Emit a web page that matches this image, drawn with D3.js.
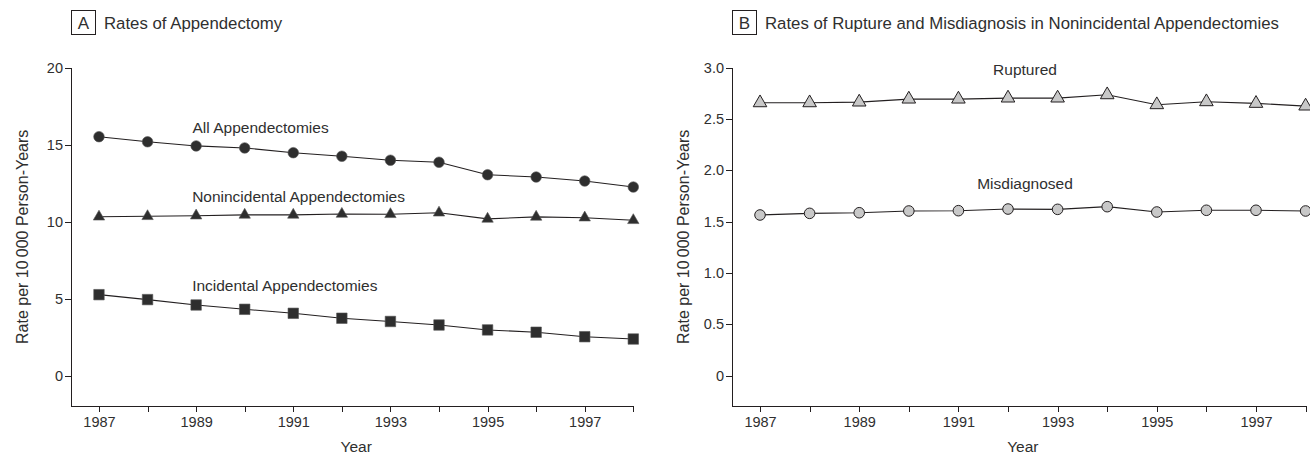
<!DOCTYPE html>
<html>
<head>
<meta charset="utf-8">
<script src="https://cdn.jsdelivr.net/npm/d3@7"></script>
<style>
  html, body { margin: 0; padding: 0; background: #fff; }
  svg { display: block; }
  text { font-family: "Liberation Sans", Arial, Helvetica, sans-serif; fill: #2f2f2f; }
  .axis path, .axis line { stroke: #231f20; stroke-width: 1.1; shape-rendering: crispEdges; }
  .axis text { font-size: 14.5px; fill: #2f2f2f; }
</style>
</head>
<body>
<svg id="chart" width="1310" height="455"></svg>
<script>
// ---- data ----
const years = [1987, 1988, 1989, 1990, 1991, 1992, 1993, 1994, 1995, 1996, 1997, 1998];
const allAppendectomies = [15.52, 15.19, 14.92, 14.79, 14.48, 14.25, 13.99, 13.86, 13.05, 12.90, 12.64, 12.25];
const nonincidentalAppendectomies = [10.32, 10.35, 10.39, 10.44, 10.44, 10.50, 10.48, 10.58, 10.18, 10.31, 10.26, 10.09];
const incidentalAppendectomies = [5.26, 4.94, 4.59, 4.31, 4.05, 3.73, 3.52, 3.29, 2.97, 2.82, 2.53, 2.38];
const ruptured = [2.658, 2.658, 2.665, 2.694, 2.694, 2.704, 2.704, 2.736, 2.639, 2.668, 2.652, 2.626];
const misdiagnosed = [1.565, 1.581, 1.587, 1.604, 1.607, 1.623, 1.620, 1.646, 1.594, 1.611, 1.611, 1.604];
const xTickYears = years;
const xTickLabels = ["1987", "", "1989", "", "1991", "", "1993", "", "1995", "", "1997", ""];
const yTicksA = [0, 5, 10, 15, 20];
const yTickLabelsA = ["0", "5", "10", "15", "20"];
const yTicksB = [0, 0.5, 1.0, 1.5, 2.0, 2.5, 3.0];
const yTickLabelsB = ["0", "0.5", "1.0", "1.5", "2.0", "2.5", "3.0"];
const titleA = "Rates of Appendectomy";
const titleB = "Rates of Rupture and Misdiagnosis in Nonincidental Appendectomies";
const yTitle = "Rate per 10\u2009000 Person-Years";
const xTitle = "Year";

// ---- layout ----
const svg = d3.select("#chart");
const ink = "#231f20";
const plotTop = 67.7, plotBottom = 406;

function panel(opts) {
  const g = svg.append("g");
  const x = d3.scaleLinear().domain([opts.xMin, 1998]).range([opts.left, opts.right]);
  const y = d3.scaleLinear().domain(opts.yDomain).range([plotBottom, plotTop]);

  // x axis
  g.append("g").attr("class", "axis")
    .attr("transform", `translate(0,${plotBottom})`)
    .call(d3.axisBottom(x).tickValues(xTickYears)
      .tickFormat((d, i) => xTickLabels[i])
      .tickSize(6).tickSizeOuter(0).tickPadding(5));

  // y axis
  g.append("g").attr("class", "axis")
    .attr("transform", `translate(${opts.left},0)`)
    .call(d3.axisLeft(y).tickValues(opts.yTicks)
      .tickFormat((d, i) => opts.yLabels[i])
      .tickSize(6).tickSizeOuter(0).tickPadding(2));

  // axis titles
  g.append("text")
    .attr("x", (opts.left + opts.right) / 2 + 4)
    .attr("y", 452)
    .attr("text-anchor", "middle")
    .style("font-size", "15.5px")
    .text(xTitle);
  g.append("text")
    .attr("transform", `translate(${opts.yTitleX},${(plotTop + plotBottom) / 2}) rotate(-90)`)
    .attr("text-anchor", "middle")
    .style("font-size", "16px")
    .text(yTitle);

  // panel title with boxed letter
  g.append("rect")
    .attr("x", opts.left + 0.5).attr("y", 10.5)
    .attr("width", 24).attr("height", 24)
    .attr("fill", "none").attr("stroke", ink).attr("stroke-width", 1);
  g.append("text")
    .attr("x", opts.left + 12.5).attr("y", 29)
    .attr("text-anchor", "middle")
    .style("font-size", "17px")
    .text(opts.letter);
  g.append("text")
    .attr("x", opts.left + 33).attr("y", 29)
    .style("font-size", "16.8px")
    .text(opts.title);

  return { g, x, y };
}

// ---- Panel A ----
const A = panel({
  left: 71, right: 633.3, xMin: 1986.424,
  yDomain: [-1.97, 20], yTicks: yTicksA, yLabels: yTickLabelsA,
  yTitleX: 28, letter: "A", title: titleA
});

const lineA = d3.line().x((d, i) => A.x(years[i])).y(d => A.y(d));
const seriesA = [
  { values: allAppendectomies, symbol: d3.symbolCircle, size: 88 },
  { values: nonincidentalAppendectomies, symbol: d3.symbolTriangle, size: 56 },
  { values: incidentalAppendectomies, symbol: d3.symbolSquare, size: 110 }
];
seriesA.forEach(s => {
  A.g.append("path").datum(s.values)
    .attr("d", lineA).attr("fill", "none")
    .attr("stroke", ink).attr("stroke-width", 1.1);
  A.g.selectAll(null).data(s.values).enter().append("path")
    .attr("transform", (d, i) => `translate(${A.x(years[i])},${A.y(d)})`)
    .attr("d", d3.symbol().type(s.symbol).size(s.size))
    .attr("fill", "#2e2e2e")
    .attr("stroke", "#555").attr("stroke-width", 0.6);
});

A.g.append("text").attr("x", A.x(1989) - 3.6).attr("y", 132.5)
  .style("font-size", "15.5px").text("All Appendectomies");
A.g.append("text").attr("x", A.x(1989) - 4).attr("y", 201.5)
  .style("font-size", "15.5px").text("Nonincidental Appendectomies");
A.g.append("text").attr("x", A.x(1989) - 4).attr("y", 290.5)
  .style("font-size", "15.5px").text("Incidental Appendectomies");

// ---- Panel B ----
const B = panel({
  left: 732, right: 1305.6, xMin: 1986.435,
  yDomain: [-0.296, 3.0], yTicks: yTicksB, yLabels: yTickLabelsB,
  yTitleX: 689, letter: "B", title: titleB
});

const lineB = d3.line().x((d, i) => B.x(years[i])).y(d => B.y(d));
const seriesB = [
  { values: ruptured, symbol: d3.symbolTriangle, size: 80 },
  { values: misdiagnosed, symbol: d3.symbolCircle, size: 88 }
];
seriesB.forEach(s => {
  B.g.append("path").datum(s.values)
    .attr("d", lineB).attr("fill", "none")
    .attr("stroke", ink).attr("stroke-width", 1.1);
  B.g.selectAll(null).data(s.values).enter().append("path")
    .attr("transform", (d, i) => `translate(${B.x(years[i])},${B.y(d)})`)
    .attr("d", d3.symbol().type(s.symbol).size(s.size))
    .attr("fill", "#c8c8c8")
    .attr("stroke", ink).attr("stroke-width", 1);
});

B.g.append("text").attr("x", 1025).attr("y", 75)
  .attr("text-anchor", "middle")
  .style("font-size", "15.5px").text("Ruptured");
B.g.append("text").attr("x", 1025).attr("y", 188.5)
  .attr("text-anchor", "middle")
  .style("font-size", "15.5px").text("Misdiagnosed");
</script>
</body>
</html>
